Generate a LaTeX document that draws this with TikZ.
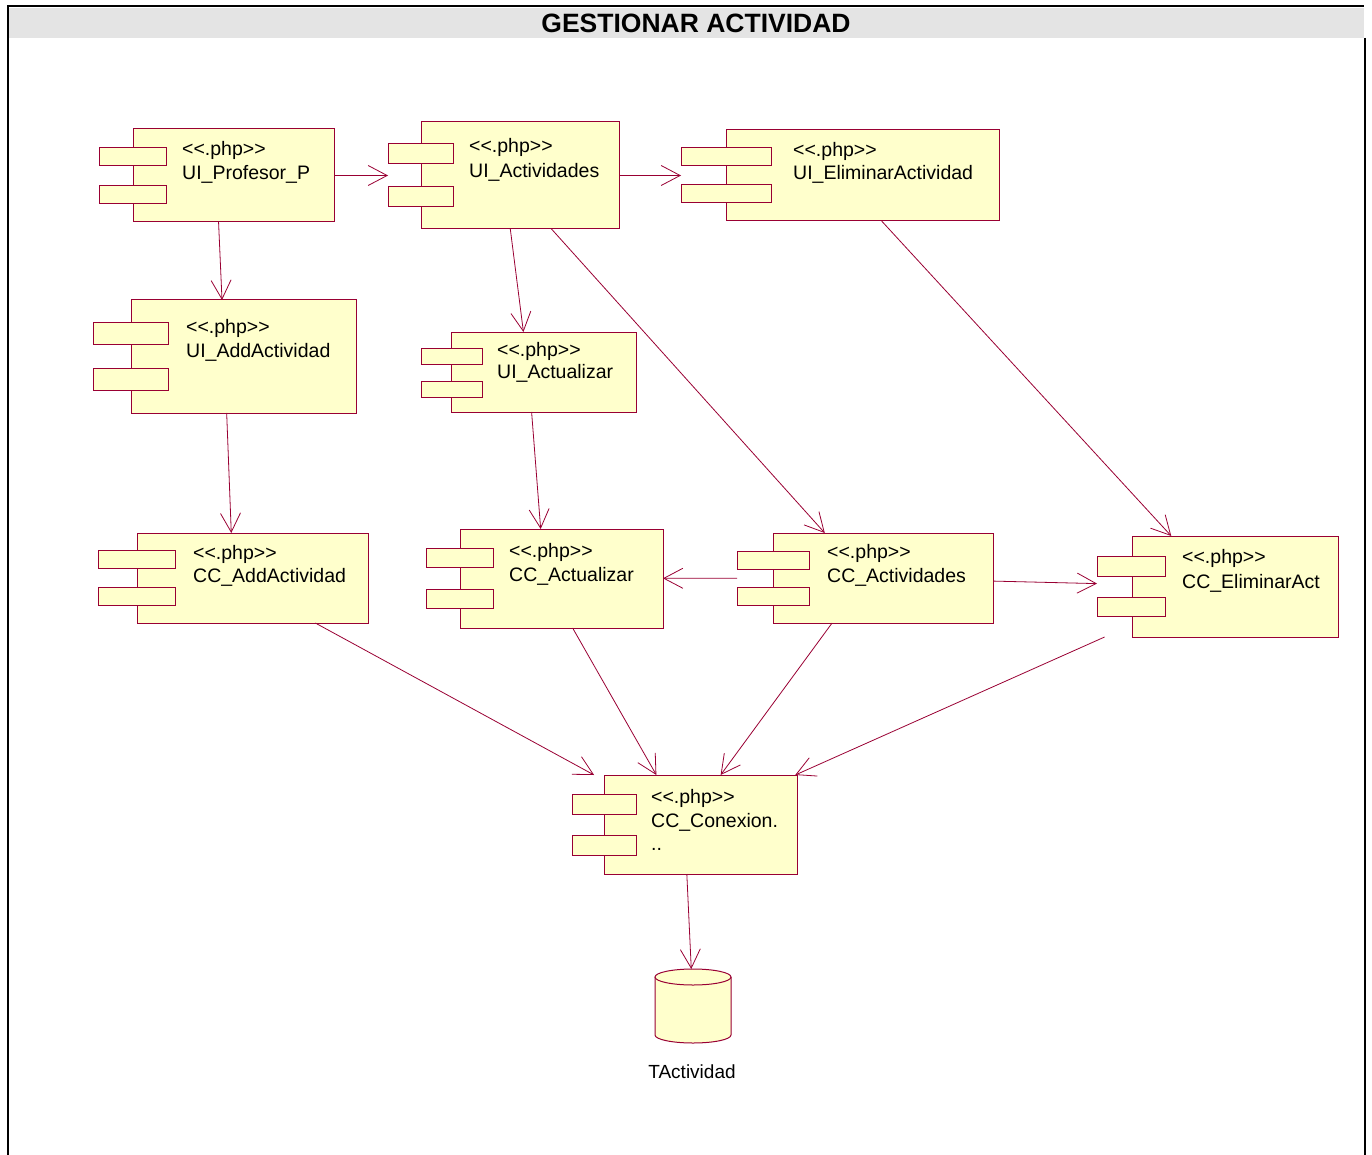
\documentclass[tikz,border=0pt]{standalone}
\usepackage{fontspec}
\setmainfont{Liberation Sans}
\usetikzlibrary{arrows.meta,fit}
\definecolor{umlline}{RGB}{153,0,51}
\definecolor{umlfill}{RGB}{255,255,204}
\definecolor{bandgray}{RGB}{228,228,228}
\newcommand\stereo{{<}{<}.php{>}{>}}
\begin{document}
\begin{tikzpicture}[x=1pt,y=-1pt,
  box/.style={draw=umlline, fill=umlfill, line width=1pt, inner sep=0pt, outer sep=0pt},
  hull/.style={inner sep=0pt, outer sep=0pt},
  lbl/.style={anchor=base west, inner sep=0pt, font=\fontsize{19.5}{23}\selectfont},
  dep/.style={draw=umlline, line width=0.8pt, -{Straight Barb[length=19pt,width=20pt]}},
  frameline/.style={draw=black, line width=2pt}
]
\useasboundingbox (0,0) rectangle (1372,1155);

% frame and title band
\fill[bandgray] (9,8) rectangle (1364,38);
\draw[frameline] (7.5,1155) -- (7.5,6.5) -- (1364,6.5);
\draw[frameline] (1365,38) -- (1365,1155);
\node[anchor=base, inner sep=0pt, font=\fontsize{26.5}{30}\selectfont\bfseries] (title) at (696,32.5) {GESTIONAR ACTIVIDAD};

% UI_Profesor_P
\node[box, fit={(133,129) (334,222)}] (pp) {};
\node[box, fit={(99,148) (166,166)}] (pp-p1) {};
\node[box, fit={(99,186) (166,204)}] (pp-p2) {};
\node[hull, fit=(pp)(pp-p1)(pp-p2)] (pp-all) {};
\node[lbl] (pp-st) at (182,156) {\stereo};
\node[lbl] (pp-nm) at (182,180) {UI\_Profesor\_P};

% UI_Actividades
\node[box, fit={(421,122) (619,229)}] (ua) {};
\node[box, fit={(388,144) (453,164)}] (ua-p1) {};
\node[box, fit={(388,187) (453,207)}] (ua-p2) {};
\node[hull, fit=(ua)(ua-p1)(ua-p2)] (ua-all) {};
\node[lbl] (ua-st) at (469,153) {\stereo};
\node[lbl] (ua-nm) at (469,178) {UI\_Actividades};

% UI_EliminarActividad
\node[box, fit={(726,130) (999,221)}] (ue) {};
\node[box, fit={(681,148) (771,166)}] (ue-p1) {};
\node[box, fit={(681,185) (771,203)}] (ue-p2) {};
\node[hull, fit=(ue)(ue-p1)(ue-p2)] (ue-all) {};
\node[lbl] (ue-st) at (793,157) {\stereo};
\node[lbl] (ue-nm) at (793,180) {UI\_EliminarActividad};

% UI_AddActividad
\node[box, fit={(131,300) (356,413)}] (uadd) {};
\node[box, fit={(93,322) (168,344)}] (uadd-p1) {};
\node[box, fit={(93,368) (168,390)}] (uadd-p2) {};
\node[hull, fit=(uadd)(uadd-p1)(uadd-p2)] (uadd-all) {};
\node[lbl] (uadd-st) at (186,334) {\stereo};
\node[lbl] (uadd-nm) at (186,357) {UI\_AddActividad};

% UI_Actualizar
\node[box, fit={(451,332) (636,412)}] (uact) {};
\node[box, fit={(421,348) (482,364)}] (uact-p1) {};
\node[box, fit={(421,381) (482,397)}] (uact-p2) {};
\node[hull, fit=(uact)(uact-p1)(uact-p2)] (uact-all) {};
\node[lbl] (uact-st) at (497,356) {\stereo};
\node[lbl] (uact-nm) at (497,378) {UI\_Actualizar};

% CC_AddActividad
\node[box, fit={(137,533) (368,623)}] (cadd) {};
\node[box, fit={(98,550) (175,568)}] (cadd-p1) {};
\node[box, fit={(98,587) (175,605)}] (cadd-p2) {};
\node[hull, fit=(cadd)(cadd-p1)(cadd-p2)] (cadd-all) {};
\node[lbl] (cadd-st) at (193,559) {\stereo};
\node[lbl] (cadd-nm) at (193,582) {CC\_AddActividad};

% CC_Actualizar
\node[box, fit={(460,529) (663,628)}] (cact) {};
\node[box, fit={(426,548) (493,567)}] (cact-p1) {};
\node[box, fit={(426,589) (493,608)}] (cact-p2) {};
\node[hull, fit=(cact)(cact-p1)(cact-p2)] (cact-all) {};
\node[lbl] (cact-st) at (509,557) {\stereo};
\node[lbl] (cact-nm) at (509,581) {CC\_Actualizar};

% CC_Actividades
\node[box, fit={(773,533) (993,623)}] (cacts) {};
\node[box, fit={(737,551) (809,569)}] (cacts-p1) {};
\node[box, fit={(737,587) (809,605)}] (cacts-p2) {};
\node[hull, fit=(cacts)(cacts-p1)(cacts-p2)] (cacts-all) {};
\node[lbl] (cacts-st) at (827,558) {\stereo};
\node[lbl] (cacts-nm) at (827,582) {CC\_Actividades};

% CC_EliminarAct
\node[box, fit={(1132,536) (1338,637)}] (celim) {};
\node[box, fit={(1097,556) (1165,576)}] (celim-p1) {};
\node[box, fit={(1097,597) (1165,616)}] (celim-p2) {};
\node[hull, fit=(celim)(celim-p1)(celim-p2)] (celim-all) {};
\node[lbl] (celim-st) at (1182,563) {\stereo};
\node[lbl] (celim-nm) at (1182,588) {CC\_EliminarAct};

% CC_Conexion
\node[box, fit={(604,775) (797,874)}] (ccon) {};
\node[box, fit={(572,794) (636,814)}] (ccon-p1) {};
\node[box, fit={(572,835) (636,855)}] (ccon-p2) {};
\node[hull, fit=(ccon)(ccon-p1)(ccon-p2)] (ccon-all) {};
\node[lbl] (ccon-st) at (651,803) {\stereo};
\node[lbl] (ccon-nm) at (651,827) {CC\_Conexion.};
\node[lbl] (ccon-nm2) at (651,850) {..};

% TActividad table (cylinder)
\path[draw=umlline, fill=umlfill, line width=1pt]
  (655,977) -- (655,1035) arc[start angle=180, end angle=360, x radius=38pt, y radius=8pt] -- (731,977);
\draw[draw=umlline, fill=umlfill, line width=1pt] (693,977) ellipse [x radius=38pt, y radius=8pt];
\node[hull, fit={(655,969) (731,1043)}] (db) {};
\node[lbl, anchor=base, font=\fontsize{19}{23}\selectfont] (db-lbl) at (692,1078) {TActividad};

% dependencies
\draw[dep] (pp-all) -- (ua-all);
\draw[dep] (ua-all) -- (ue-all);
\draw[dep] (pp-all) -- (uadd-all);
\draw[dep] (ua-all) -- (uact-all);
\draw[dep] (ua-all) -- (cacts-all);
\draw[dep] (ue-all) -- (celim-all);
\draw[dep] (uadd-all) -- (cadd-all);
\draw[dep] (uact-all) -- (cact-all);
\draw[dep] (cacts-all) -- (cact-all);
\draw[dep] (cacts-all) -- (celim-all);
\draw[dep] (cadd-all) -- (ccon-all);
\draw[dep] (cact-all) -- (ccon-all);
\draw[dep] (cacts-all) -- (ccon-all);
\draw[dep] (celim-all) -- (ccon-all);
\draw[dep] (ccon-all) -- (db);
\end{tikzpicture}
\end{document}
